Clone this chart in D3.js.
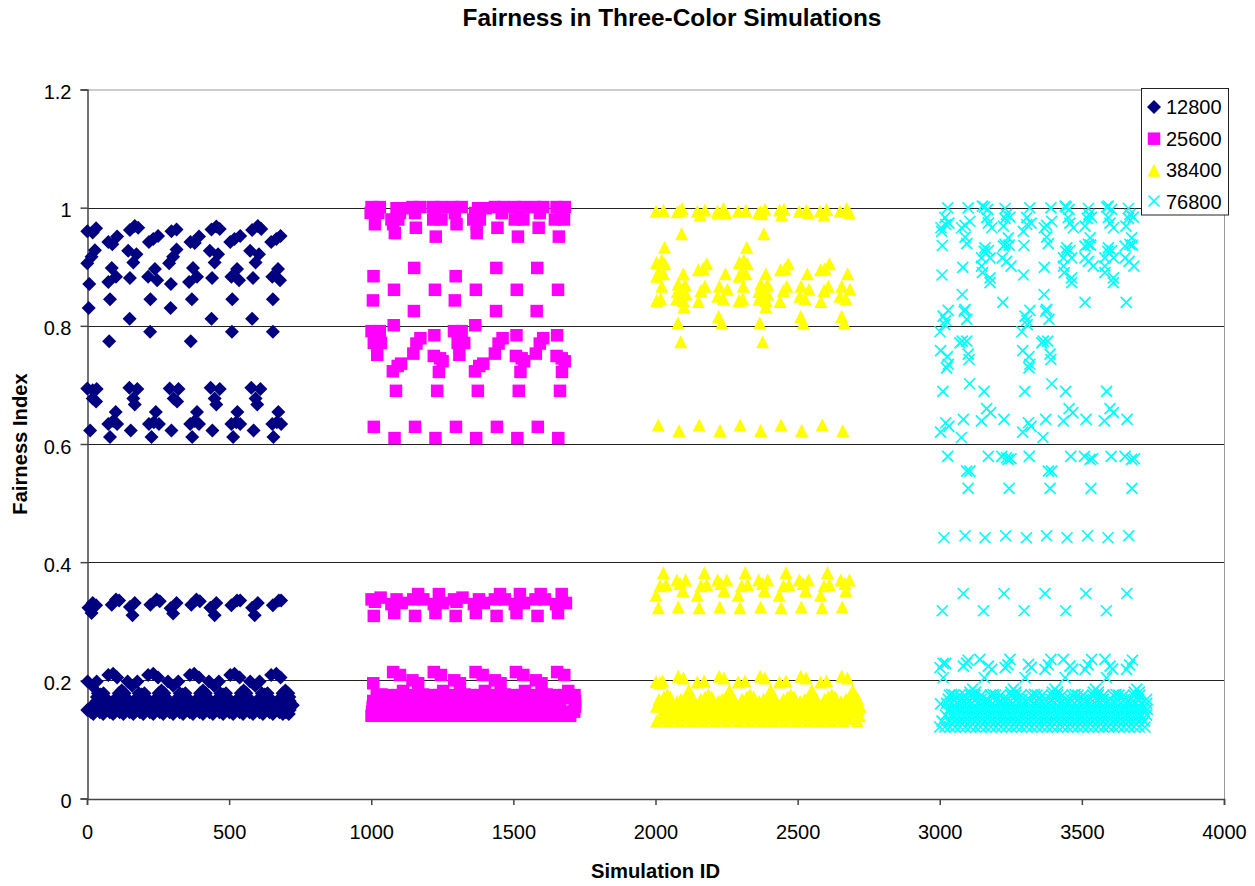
<!DOCTYPE html>
<html><head><meta charset="utf-8">
<script src="https://cdn.jsdelivr.net/npm/d3@7"></script>
<style>html,body{margin:0;background:#fff}svg{display:block}text{font-family:"Liberation Sans",Arial,sans-serif;fill:#000}</style>
</head><body><svg id="c" width="1255" height="886"></svg>
<script>
const chartTitle="Fairness in Three-Color Simulations", xTitle="Simulation ID", yTitle="Fairness Index";
const xTicks=[0,500,1000,1500,2000,2500,3000,3500,4000];
const yTicks=[0,0.2,0.4,0.6,0.8,1,1.2];
const seriesNames=["12800","25600","38400","76800"];
const seriesColors=["#000080","#ff00ff","#ffff00","#00ffff"];

const s12800=[
[1,.960],[20,.958],[32,.965],[151,.962],[168,.969],[180,.966],[297,.960],[315,.963],[438,.963],[455,.968],[467,.964],[581,.962],[601,.969],[613,.964],
[75,.942],[89,.938],[106,.951],[218,.942],[233,.947],[250,.952],[364,.942],[379,.940],[394,.951],[504,.942],[519,.947],[539,.952],[648,.942],[666,.947],[681,.952],
[28,.928],[16,.917],[1,.906],[145,.927],[174,.921],[163,.907],[303,.917],[289,.906],[315,.929],[432,.927],[461,.921],[449,.907],[574,.927],[605,.921],[593,.907],
[87,.898],[102,.883],[75,.874],[151,.881],[239,.896],[215,.883],[247,.877],[295,.871],[373,.898],[387,.883],[359,.874],[440,.881],[528,.896],[508,.883],[535,.877],[584,.881],[672,.896],[652,.883],[679,.877],
[8,.871],[81,.845],[223,.845],[369,.845],[511,.845],[654,.845],[6,.830],[294,.830],[150,.812],[438,.812],[581,.812],[222,.790],[510,.790],[654,.790],[78,.774],[365,.774],
[1,.694],[34,.693],[20,.691],[149,.695],[177,.693],[291,.694],[322,.693],[435,.695],[467,.693],[578,.695],[610,.693],
[20,.677],[32,.672],[163,.677],[168,.667],[305,.677],[317,.672],[449,.677],[455,.667],[593,.677],[599,.667],
[101,.654],[242,.654],[387,.654],[529,.654],[673,.654],
[75,.634],[106,.634],[92,.639],[218,.634],[253,.634],[235,.637],[363,.634],[394,.634],[379,.639],[508,.634],[539,.634],[525,.637],[652,.634],[683,.634],[668,.637],
[11,.623],[154,.623],[297,.623],[441,.623],[586,.623],[81,.612],[227,.612],[370,.612],[514,.612],[656,.612],
[20,.331],[5,.323],[32,.327],[16,.314],[102,.337],[87,.328],[113,.335],[168,.331],[151,.324],[160,.310],[245,.337],[223,.328],[256,.334],[315,.331],[294,.322],[303,.313],[385,.337],[367,.328],[397,.334],[455,.331],[434,.323],[449,.310],[528,.335],[508,.327],[539,.335],[601,.331],[581,.323],[590,.310],[675,.335],[654,.327],[683,.335],
[2,.198],[34,.198],[19,.191],[143,.198],[177,.198],[159,.191],[285,.198],[321,.198],[303,.191],[429,.198],[464,.198],[447,.191],[574,.198],[607,.198],[592,.191],
[75,.209],[92,.211],[106,.205],[215,.209],[233,.211],[250,.205],[362,.209],[377,.211],[394,.205],[504,.209],[519,.211],[537,.205],[648,.209],[666,.211],[681,.205],
[48,.176],[122,.183],[192,.176],[262,.183],[336,.176],[408,.183],[479,.176],[551,.183],[625,.176],[698,.183]
];
const mass12800=[
[.178,[38,58,112,132,182,202,252,272,326,346,398,418,469,489,541,561,615,635,688,708]],
[.172,[35,62,108,136,178,206,248,276,322,350,394,422,465,493,537,565,611,639,684,712]],
[.165,[34,69,92,139,168,215,245,285,315,356,385,432,461,502,526,573,601,642,672,713]],
[.158,[24,46,81,122,157,192,227,262,303,338,373,408,443,479,514,549,584,625,660,695,724]],
[.154,[12,45,80,115,150,186,221,256,291,326,361,396,431,466,501,537,572,607,642,677,712]],
[.150,[1,28,63,98,133,168,204,239,274,309,344,379,414,449,484,519,555,590,625,660,695,713]],
[.146,[14,45,80,115,150,186,221,256,291,326,361,396,431,466,501,537,572,607,642,677,700]],
[.143,[22,57,92,128,163,198,233,268,303,338,373,408,443,479,514,549,584,619,654,689,710]]
];

const s25600=[
[1001,1.001],[1030,1.001],[1145,1.001],[1173,1.001],[1218,1.001],[1247,1.001],[1288,1.001],[1318,1.001],[1435,1.001],[1464,1.001],[1505,1.001],[1535,1.001],[1576,1.001],[1605,1.001],[1652,1.001],[1681,1.001],
[1089,.999],[1112,.999],[1376,.999],[1403,.999],
[998,.991],[1025,.991],[1101,.991],[1154,.991],[1224,.991],[1294,.991],[1365,.991],[1459,.991],[1523,.991],[1593,.991],[1670,.991],
[1071,.980],[1095,.980],[1218,.980],[1247,.980],[1359,.980],[1382,.980],[1505,.980],[1535,.980],[1646,.980],[1678,.980],
[1013,.972],[1077,.972],[1300,.972],[1371,.972],[1157,.966],[1444,.966],[1589,.966],[1083,.957],[1371,.957],[1227,.951],[1516,.951],[1660,.951],
[1151,.898],[1440,.898],[1584,.898],[1008,.884],[1297,.884],
[1080,.861],[1224,.861],[1368,.861],[1512,.861],[1657,.861],[1006,.843],[1294,.843],[1150,.825],[1439,.825],[1582,.825],[1079,.801],[1366,.801],
[1001,.791],[1030,.791],[1291,.791],[1318,.791],[1009,.771],[1034,.771],[1304,.771],[1327,.771],[1021,.751],[1310,.751],
[1222,.784],[1511,.784],[1654,.784],[1173,.779],[1462,.779],[1605,.779],[1159,.770],[1448,.770],[1593,.770],[1148,.753],[1435,.753],[1579,.753],
[1220,.749],[1509,.749],[1652,.749],[1251,.740],[1538,.740],[1681,.740],[1242,.745],[1529,.745],[1670,.745],[1105,.736],[1394,.736],[1093,.732],[1380,.732],[1076,.723],[1365,.723],[1238,.722],[1525,.722],[1671,.722],
[1087,.690],[1232,.690],[1375,.690],[1519,.690],[1664,.690],[1009,.629],[1154,.629],[1298,.629],[1442,.629],[1586,.629],[1082,.610],[1226,.610],[1369,.610],[1514,.610],[1658,.610],
[1001,.337],[1033,.340],[1013,.333],[1071,.329],[1089,.337],[1107,.331],[1081,.314],[1148,.337],[1165,.346],[1183,.337],[1154,.309],[1220,.329],[1238,.346],[1251,.331],[1226,.314],[1291,.337],[1321,.340],[1300,.333],[1361,.329],[1379,.337],[1396,.331],[1368,.314],[1435,.337],[1453,.346],[1470,.337],[1441,.309],[1505,.329],[1523,.346],[1537,.331],[1511,.314],[1578,.337],[1596,.346],[1611,.337],[1585,.309],[1650,.329],[1670,.346],[1685,.331],[1657,.314],[1009,.309],[1297,.309],
[1007,.195],[1077,.214],[1101,.209],[1145,.200],[1165,.195],[1220,.214],[1245,.209],[1292,.200],[1312,.195],[1367,.214],[1392,.209],[1435,.200],[1455,.195],[1509,.214],[1535,.209],[1579,.200],[1599,.195],[1654,.214],[1679,.209],
[1036,.176],[1112,.182],[1183,.176],[1253,.182],[1329,.176],[1400,.182],[1470,.176],[1541,.182],[1617,.176],[1693,.182]
];
const mass25600=[
[.175,[1020,1055,1095,1130,1170,1205,1240,1275,1315,1350,1385,1420,1460,1495,1530,1565,1605,1640,1680,1715]],
[.170,[1020,1050,1095,1125,1170,1198,1240,1268,1315,1345,1385,1415,1460,1488,1530,1555,1605,1632,1680,1712]],
[.165,[1007,1048,1089,1130,1171,1212,1253,1294,1335,1376,1417,1459,1500,1541,1582,1623,1664,1717]],
[.155,[1005,1042,1083,1124,1165,1206,1247,1288,1329,1371,1412,1453,1494,1535,1576,1617,1658,1717]],
[.147,[1003,1025,1063,1104,1145,1186,1227,1268,1309,1350,1391,1432,1473,1514,1555,1596,1637,1680,1714]],
[.140,[1001,1042,1083,1124,1165,1206,1247,1288,1329,1371,1412,1453,1494,1535,1576,1617,1658,1700]]
];

const s38400=[
[2002,.994],[2028,.995],[2086,.995],[2094,.9986],[2147,.994],[2174,.996],[2157,.9874],[2218,.994],[2239,.9986],[2248,.9913],[2291,.994],[2318,.995],[2362,.9913],[2385,.9975],[2374,.9896],[2436,.996],[2452,.9975],[2444,.9874],[2506,.994],[2530,.995],[2538,.9913],[2579,.994],[2602,.997],[2593,.9874],[2649,.994],[2673,.9986],[2682,.9913],[2077,.993],[2221,.9913],[2370,.993],
[2092,.956],[2381,.956],[2032,.933],[2321,.933],[2004,.907],[2022,.911],[2033,.905],[2295,.907],[2311,.911],[2323,.905],
[2180,.905],[2467,.905],[2612,.905],[2151,.895],[2168,.897],[2440,.895],[2456,.897],[2581,.895],[2596,.897],
[2012,.891],[2303,.891],[2004,.884],[2294,.884],[2028,.888],[2318,.888],[2098,.888],[2246,.888],[2388,.888],[2534,.888],[2676,.888],
[2022,.867],[2080,.871],[2104,.870],[2370,.871],[2394,.870],[2309,.867],[2225,.867],[2512,.867],[2655,.867],[2174,.867],[2462,.867],[2608,.867],
[2253,.862],[2540,.862],[2684,.862],[2160,.860],[2450,.860],[2593,.860],[2077,.858],[2107,.854],[2364,.858],[2395,.854],[2092,.853],[2382,.853],
[2018,.846],[2307,.846],[2004,.843],[2294,.843],[2074,.845],[2364,.845],[2219,.850],[2239,.846],[2508,.850],[2526,.846],[2649,.850],[2670,.846],[2098,.843],[2389,.843],[2151,.841],[2438,.841],[2582,.841],[2100,.832],[2388,.832],
[2222,.816],[2511,.816],[2655,.816],[2079,.805],[2367,.805],[2233,.805],[2520,.805],[2664,.805],[2089,.773],[2377,.773],
[2010,.632],[2154,.632],[2298,.632],[2442,.632],[2587,.632],[2083,.623],[2227,.623],[2370,.623],[2514,.623],[2659,.623],
[2028,.382],[2172,.382],[2316,.382],[2459,.382],[2605,.382],
[2075,.370],[2106,.370],[2218,.370],[2251,.370],[2363,.370],[2395,.370],[2506,.370],[2538,.370],[2652,.370],[2682,.370],
[2086,.364],[2230,.364],[2377,.364],[2520,.364],[2667,.364],
[2016,.360],[2037,.362],[2160,.360],[2180,.362],[2303,.360],[2324,.362],[2450,.360],[2470,.362],[2593,.360],[2612,.362],
[2096,.352],[2241,.352],[2383,.352],[2528,.352],[2670,.352],[2002,.344],[2147,.344],[2291,.344],[2435,.344],[2581,.344],
[2010,.323],[2154,.323],[2297,.323],[2442,.323],[2586,.323],[2080,.324],[2226,.324],[2370,.324],[2513,.324],[2657,.324],
[2002,.1975],[2025,.199],[2016,.196],[2080,.207],[2098,.204],[2147,.197],[2171,.199],[2224,.207],[2241,.204],[2291,.197],[2315,.199],[2368,.207],[2385,.204],[2436,.197],[2459,.199],[2511,.207],[2530,.204],[2581,.197],[2602,.199],[2655,.207],[2675,.204],
[2042,.1755],[2117,.183],[2186,.1755],[2260,.183],[2333,.1755],[2405,.183],[2476,.1755],[2550,.183],[2620,.1755],[2694,.183],
[2077,.164],[2221,.164],[2365,.164],[2509,.164],[2653,.164],[2004,.156],[2147,.156],[2291,.156],[2436,.156],[2579,.156],[2720,.156]
];
const mass38400=[
[.172,[2030,2052,2105,2130,2175,2198,2248,2272,2322,2345,2393,2418,2465,2488,2538,2562,2608,2632,2682,2706]],
[.168,[2012,2050,2090,2125,2160,2200,2235,2275,2305,2345,2380,2420,2450,2490,2525,2565,2595,2635,2670,2712]],
[.165,[2040,2112,2126,2182,2256,2270,2330,2400,2414,2472,2545,2560,2616,2690,2704]],
[.160,[2020,2060,2095,2135,2165,2205,2240,2280,2310,2350,2385,2425,2455,2495,2530,2570,2600,2640,2675,2710]],
[.155,[2048,2089,2130,2171,2212,2253,2294,2335,2376,2417,2458,2499,2540,2581,2622,2663,2700]],
[.150,[2028,2069,2110,2151,2192,2233,2274,2315,2356,2397,2438,2479,2520,2561,2602,2643,2684,2714]],
[.145,[2048,2089,2130,2171,2212,2253,2294,2335,2376,2417,2458,2499,2540,2581,2622,2663,2700]],
[.140,[2022,2063,2104,2145,2186,2227,2268,2309,2350,2391,2432,2473,2514,2555,2596,2637,2678,2718]],
[.136,[2025,2066,2107,2148,2189,2230,2271,2312,2353,2394,2435,2476,2517,2558,2599,2640,2681]],
[.131,[2004,2045,2086,2127,2168,2209,2250,2291,2332,2373,2414,2455,2496,2537,2578,2619,2660,2710]]
];

const s76800=[
[3028,.9997],[3018,.983],[3032,.974],[3007,.960],[3021,.9715],[3004,.966],
[3100,.9997],[3106,.977],[3077,.966],[3089,.970],
[3157,1.0009],[3150,1.0026],[3169,.997],[3165,.983],[3171,.974],[3183,.966],
[3230,.9986],[3235,.9885],[3247,.984],[3224,.9687],[3230,.982],
[3317,.9997],[3306,.983],[3321,.974],[3294,.960],[3306,.9715],
[3391,.9997],[3394,.977],[3368,.966],[3376,.970],
[3445,1.0009],[3441,1.0026],[3455,.997],[3452,.983],[3458,.974],[3470,.966],
[3523,.9986],[3525,.9885],[3534,.984],[3511,.9687],[3519,.982],
[3587,1.0009],[3593,1.0026],[3605,.997],[3593,.983],[3599,.974],[3611,.966],
[3664,.9986],[3669,.9885],[3681,.984],[3655,.9687],[3664,.982],
[3009,.936],[3095,.939],[3089,.950],[3296,.936],[3382,.939],[3376,.950],
[3159,.932],[3157,.926],[3171,.9275],[3147,.915],[3177,.915],[3147,.901],[3150,.890],[3177,.881],[3177,.873],
[3230,.9377],[3241,.949],[3244,.9366],[3224,.935],[3220,.915],[3235,.909],[3251,.901],
[3447,.932],[3444,.926],[3458,.9275],[3435,.915],[3464,.915],[3435,.901],[3438,.890],[3464,.881],[3464,.873],
[3523,.9377],[3529,.949],[3531,.9366],[3511,.935],[3511,.915],[3523,.909],[3540,.901],
[3593,.932],[3591,.926],[3605,.9275],[3581,.915],[3611,.915],[3581,.901],[3581,.890],[3611,.881],[3611,.873],
[3669,.9377],[3675,.949],[3678,.9366],[3652,.935],[3652,.915],[3666,.909],[3683,.901],
[3081,.899],[3008,.886],[3368,.899],[3295,.886],[3079,.853],[3367,.853],[3222,.8396],[3511,.8396],[3656,.8396],
[3030,.826],[3012,.8164],[3021,.809],[3018,.802],[3001,.790],[3089,.828],[3086,.825],[3095,.811],
[3317,.826],[3300,.8164],[3306,.809],[3308,.802],[3289,.790],[3376,.828],[3373,.825],[3384,.811],
[3079,.774],[3095,.774],[3071,.771],[3364,.774],[3380,.774],[3359,.771],
[3003,.758],[3027,.748],[3030,.735],[3024,.729],[3292,.758],[3314,.748],[3317,.735],[3314,.729],
[3100,.752],[3103,.743],[3388,.752],[3391,.743],[3105,.702],[3394,.702],
[3011,.689],[3156,.689],[3299,.689],[3443,.689],[3587,.689],
[3165,.660],[3179,.653],[3455,.660],[3468,.653],[3599,.660],[3611,.653],[3226,.6416],[3515,.6416],[3659,.6416],
[3083,.6416],[3147,.639],[3373,.6416],[3435,.639],[3579,.639],
[3021,.636],[3032,.630],[3003,.620],[3312,.636],[3321,.630],[3292,.620],[3076,.611],[3363,.611],
[3028,.579],[3171,.579],[3218,.579],[3241,.574],[3251,.575],[3315,.579],[3461,.579],[3509,.579],[3529,.574],[3538,.575],[3603,.579],[3652,.579],[3675,.574],[3685,.575],[3235,.5767],
[3095,.554],[3106,.554],[3382,.554],[3394,.554],
[3100,.5248],[3244,.5248],[3388,.5248],[3532,.5248],[3676,.5248],
[3015,.4413],[3089,.4447],[3159,.4413],[3232,.4447],[3305,.4413],[3376,.4447],[3448,.4413],[3520,.4447],[3592,.4413],[3665,.4447],
[3083,.347],[3226,.347],[3370,.347],[3514,.347],[3658,.347],[3009,.3178],[3154,.3178],[3297,.3178],[3443,.3178],[3586,.3178],
[3001,.2214],[3012,.2287],[3021,.2287],[3012,.2044],[3083,.224],[3094,.229],[3100,.234],[3141,.2355],[3171,.224],[3183,.2186],[3157,.2044],[3230,.2214],[3240,.226],[3247,.2355],[3300,.2044],[3312,.227],[3322,.222],[3370,.2186],[3382,.226],[3391,.2355],[3435,.2355],[3458,.224],[3468,.219],[3441,.2044],[3511,.2186],[3522,.226],[3534,.2355],[3581,.2355],[3599,.224],[3608,.219],[3587,.2044],[3657,.2186],[3668,.226],[3678,.234],
[3042,.176],[3116,.185],[3188,.176],[3259,.185],[3333,.176],[3405,.185],[3476,.176],[3548,.185],[3620,.176],[3693,.185],[3003,.160]
];
const mass76800=[
[.180,[3106,3126,3250,3268,3396,3414,3540,3558,3684,3702]],
[.175,[3034,3050,3070,3088,3108,3124,3146,3178,3196,3214,3250,3268,3286,3322,3342,3360,3394,3414,3432,3466,3486,3504,3538,3558,3576,3610,3630,3648,3682,3704]],
[.168,[3030,3050,3074,3094,3126,3146,3168,3200,3222,3240,3270,3290,3312,3350,3370,3392,3414,3440,3460,3486,3506,3530,3555,3575,3600,3625,3650,3672,3700,3728]],
[.161,[3024,3042,3060,3078,3096,3114,3132,3150,3168,3186,3204,3222,3240,3258,3276,3294,3312,3330,3348,3366,3384,3402,3420,3438,3456,3474,3492,3510,3528,3546,3564,3582,3600,3618,3636,3654,3672,3690,3708,3728]],
[.151,[3033,3051,3069,3087,3105,3123,3141,3159,3177,3195,3213,3231,3249,3267,3285,3303,3321,3339,3357,3375,3393,3411,3429,3447,3465,3483,3501,3519,3537,3555,3573,3591,3609,3627,3645,3663,3681,3699,3717,3730]],
[.141,[3020,3042,3060,3078,3096,3114,3132,3150,3168,3186,3204,3222,3240,3258,3276,3294,3312,3330,3348,3366,3384,3402,3420,3438,3456,3474,3492,3510,3528,3546,3564,3582,3600,3618,3636,3654,3672,3690,3708,3728]],
[.131,[3008,3033,3051,3069,3087,3105,3123,3141,3159,3177,3195,3213,3231,3249,3267,3285,3303,3321,3339,3357,3375,3393,3411,3429,3447,3465,3483,3501,3519,3537,3555,3573,3591,3609,3627,3645,3663,3681,3699,3720]],
[.121,[3000,3018,3036,3054,3072,3090,3108,3126,3144,3162,3180,3198,3216,3234,3252,3270,3288,3306,3324,3342,3360,3378,3396,3414,3432,3450,3468,3486,3504,3522,3540,3558,3576,3594,3612,3630,3648,3666,3684,3702,3722]]
];

const unroll=rows=>rows.flatMap(([v,xs])=>xs.map(k=>[k,v]));
const allSeries=[s12800.concat(unroll(mass12800)),s25600.concat(unroll(mass25600)),s38400.concat(unroll(mass38400)),s76800.concat(unroll(mass76800))];

const svg=d3.select("#c");
const x=d3.scaleLinear().domain([0,4000]).range([87,1224]);
const y=d3.scaleLinear().domain([0,1.2]).range([798.5,89.5]);

// plot frame + gridlines
svg.append("path").attr("d",`M87 90H1224.5V799`).attr("fill","none").attr("stroke","#9a9a9a").attr("stroke-width",1);
svg.append("g").selectAll("line").data(yTicks.filter(d=>d>0&&d<1.2)).join("line")
  .attr("x1",87).attr("x2",1224).attr("y1",d=>Math.round(y(d))+.5).attr("y2",d=>Math.round(y(d))+.5)
  .attr("stroke","#222").attr("stroke-width",1);

// axes
const gx=svg.append("g").attr("transform","translate(0,799)").call(d3.axisBottom(x).tickValues(xTicks).tickFormat(d3.format("d")).tickSizeOuter(0).tickSize(6).tickPadding(20));
const gy=svg.append("g").attr("transform","translate(87.5,0)").call(d3.axisLeft(y).tickValues(yTicks).tickFormat(d=>String(d)).tickSizeOuter(0).tickSize(7).tickPadding(9));
[gx,gy].forEach(g=>{g.selectAll("text").style("font-size","20px").style("font-family",'"Liberation Sans",Arial,sans-serif').attr("fill","#000");
  g.selectAll("line,path").attr("stroke","#444").attr("stroke-width",1.5);});
gy.selectAll("text").attr("dy",".45em");

// marker shapes
const diamond={draw(c,s){const r=Math.sqrt(s)/2;c.moveTo(0,-r);c.lineTo(r,0);c.lineTo(0,r);c.lineTo(-r,0);c.closePath();}};
const square={draw(c,s){const r=Math.sqrt(s)/2;c.rect(-r,-r,2*r,2*r);}};
const triangle={draw(c,s){const r=Math.sqrt(s)/2;c.moveTo(0,-r);c.lineTo(r,r);c.lineTo(-r,r);c.closePath();}};
const cross={draw(c,s){const r=Math.sqrt(s)/2;c.moveTo(-r,-r);c.lineTo(r,r);c.moveTo(-r,r);c.lineTo(r,-r);}};
const shapes=[diamond,square,triangle,cross];
const sizes=[14*14,12.5*12.5,13*13,11*11];
const gen=i=>d3.symbol().type(shapes[i]).size(sizes[i])();
function style(sel,i){ if(i===3) sel.attr("fill","none").attr("stroke",seriesColors[i]).attr("stroke-width",1.7);
  else sel.attr("fill",seriesColors[i]); return sel;}

allSeries.forEach((data,i)=>{
  const g=svg.append("g");
  style(g.selectAll("path").data(data).join("path").attr("d",gen(i))
    .attr("transform",d=>`translate(${x(d[0])},${y(d[1])})`),i);
});

// legend
const lg=svg.append("g");
lg.append("rect").attr("x",1141.5).attr("y",88.5).attr("width",87).attr("height",126.5).attr("fill","#fff").attr("stroke","#222").attr("stroke-width",1);
const legendY=d3.scalePoint().domain(seriesNames).range([107,202]);
seriesNames.forEach((n,i)=>{
  style(lg.append("path").attr("d",gen(i)).attr("transform",`translate(1154,${legendY(n)-(i==3?1:0)})`),i);
  lg.append("text").attr("x",1166).attr("y",legendY(n)+7).style("font-size","20px").text(n);
});

// titles
svg.append("text").attr("x",672).attr("y",26).attr("text-anchor","middle").style("font-size","24.4px").style("font-weight","bold").text(chartTitle);
svg.append("text").attr("x",655.5).attr("y",878).attr("text-anchor","middle").style("font-size","20.2px").style("font-weight","bold").text(xTitle);
svg.append("text").attr("transform","translate(27,444) rotate(-90)").attr("text-anchor","middle").style("font-size","20.2px").style("font-weight","bold").text(yTitle);
</script></body></html>
